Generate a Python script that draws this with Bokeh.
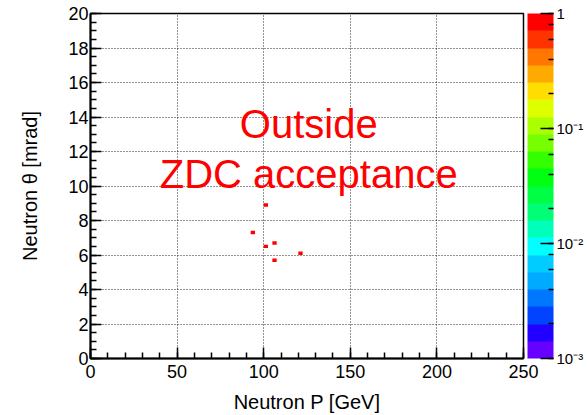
from bokeh.plotting import figure
from bokeh.models import (ColumnDataSource, LogColorMapper, ColorBar, LogTicker,
                          SingleIntervalTicker, Label, CustomJSTickFormatter)
from bokeh.embed import file_html
from bokeh.resources import INLINE

# ---- data (2D histogram bins with entries) ----
neutron_p = [101.25, 93.75, 106.25, 101.25, 121.25, 106.25]      # GeV (bin centres)
neutron_theta = [8.9, 7.3, 6.7, 6.5, 6.1, 5.7]                   # mrad (bin centres)
counts = [1, 1, 1, 1, 1, 1]

x_ticks_interval = 50
y_ticks_interval = 2
z_low, z_high = 1e-3, 1.0

palette = ["#6600ff", "#2200ff", "#0044ff", "#0077ff", "#00aaff", "#00ccff",
           "#00ffff", "#00ffbb", "#00ff77", "#00ff44", "#00ff11", "#33ff00",
           "#77ff00", "#aaff00", "#ddff00", "#ffdd00", "#ffaa00", "#ff7700",
           "#ff3300", "#ff0000"]

FONT = "Liberation Sans"

src = ColumnDataSource(dict(x=neutron_p, y=neutron_theta, z=counts))
mapper = LogColorMapper(palette=palette, low=z_low, high=z_high)

p = figure(width=587, height=415, x_range=(0, 250), y_range=(0, 20),
           output_backend="svg", toolbar_location=None,
           min_border_left=90, min_border_right=64, min_border_top=13,
           min_border_bottom=57)
p.background_fill_color = "white"
p.border_fill_color = "white"
p.outline_line_color = "black"
p.outline_line_width = 1.5

p.rect(x="x", y="y", width=2.5, height=0.2, source=src,
       fill_color={"field": "z", "transform": mapper}, line_color=None)

# axes
p.xaxis.ticker = SingleIntervalTicker(interval=x_ticks_interval, num_minor_ticks=5)
p.yaxis.ticker = SingleIntervalTicker(interval=y_ticks_interval, num_minor_ticks=4)
for ax in (p.xaxis[0], p.yaxis[0]):
    ax.axis_line_width = 2
    ax.axis_line_color = "black"
    ax.major_tick_in = 11
    ax.major_tick_out = 0
    ax.minor_tick_in = 6
    ax.minor_tick_out = 0
    ax.major_tick_line_width = 1.5
    ax.minor_tick_line_width = 1.5
    ax.major_label_text_font = FONT
    ax.major_label_text_font_size = "18px"
    ax.major_label_text_color = "black"
    ax.axis_label_text_font = FONT
    ax.axis_label_text_font_size = "20px"
    ax.axis_label_text_font_style = "normal"
    ax.axis_label_text_color = "black"
p.xaxis.axis_label = "Neutron P [GeV]"
p.yaxis.axis_label = "Neutron θ [mrad]"
p.xaxis.major_label_standoff = 6
p.yaxis.major_label_standoff = 2
p.xaxis.axis_label_standoff = 10
p.yaxis.axis_label_standoff = 24

for g in (p.xgrid[0], p.ygrid[0]):
    g.grid_line_color = "black"
    g.grid_line_alpha = 0.85
    g.grid_line_dash = "1 2"
    g.grid_line_width = 1

# annotation text
for txt, yy in (("Outside", 13.62), ("ZDC acceptance", 10.67)):
    p.add_layout(Label(x=126, y=yy, text=txt, text_align="center",
                       text_baseline="alphabetic", text_color="#ff0000",
                       text_font=FONT, text_font_size="40px"))

fmt = CustomJSTickFormatter(code="""
const e = Math.round(Math.log10(tick));
if (e === 0) { return "1"; }
const sup = {"-": "\u207b", "0": "\u2070", "1": "\u00b9", "2": "\u00b2", "3": "\u00b3",
             "4": "\u2074", "5": "\u2075", "6": "\u2076", "7": "\u2077", "8": "\u2078", "9": "\u2079"};
return "10" + String(e).split("").map(c => sup[c]).join("");
""")

# colour bar placed just right of the frame (outside it)
cb = ColorBar(color_mapper=mapper, ticker=LogTicker(), formatter=fmt,
              location=(437, 0), width=26, height=345, margin=0, padding=0,
              label_standoff=3,
              major_tick_in=13, major_tick_out=0, minor_tick_in=5, minor_tick_out=0,
              major_tick_line_color="black", major_tick_line_width=1.5,
              minor_tick_line_color="black", minor_tick_line_width=1.5,
              bar_line_color=None, border_line_color=None,
              background_fill_color=None, background_fill_alpha=0,
              major_label_text_font=FONT, major_label_text_font_size="15px",
              major_label_text_color="black")
p.add_layout(cb, "center")

open("out.html", "w").write(file_html(p, INLINE))
